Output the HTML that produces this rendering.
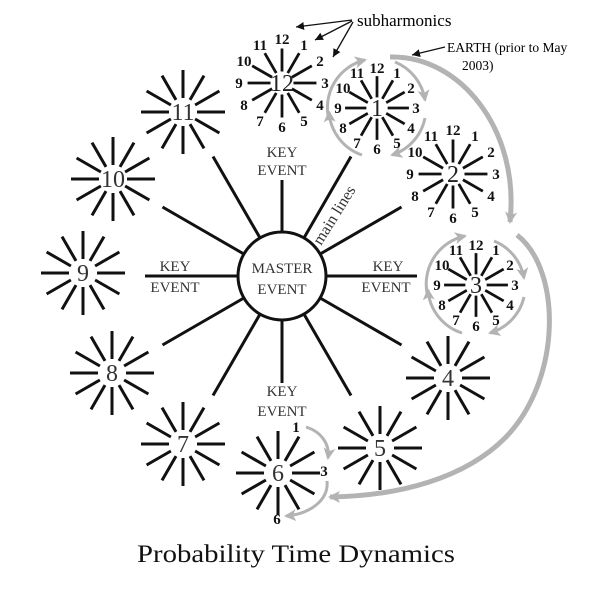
<!DOCTYPE html>
<html><head><meta charset="utf-8"><style>
html,body{margin:0;padding:0;background:#fff;}
svg{display:block;}
text{font-family:"Liberation Serif",serif;}
.n{font-weight:bold;font-size:15px;text-anchor:middle;fill:#111;}
.c{font-size:24px;text-anchor:middle;fill:#222;}
.b{font-size:24px;text-anchor:middle;fill:#333;}
.k{font-size:15px;text-anchor:middle;fill:#333;}
</style></head><body>
<svg width="600" height="600" viewBox="0 0 600 600" xmlns="http://www.w3.org/2000/svg">
<defs>
<path id="rays" d="M14,0L42,0M12.1,7L36.4,21M7,12.1L21,36.4M0,14L0,42M-7,12.1L-21,36.4M-12.1,7L-36.4,21M-14,0L-42,0M-12.1,-7L-36.4,-21M-7,-12.1L-21,-36.4M0,-14L0,-42M7,-12.1L21,-36.4M12.1,-7L36.4,-21" stroke="#111" fill="none"/>
<marker id="ga" markerUnits="userSpaceOnUse" markerWidth="14" markerHeight="14" refX="10" refY="6" orient="auto"><path d="M0,0L12,6L0,12L3,6Z" fill="#b3b3b3"/></marker>
<marker id="ka" markerUnits="userSpaceOnUse" markerWidth="10" markerHeight="10" refX="8" refY="4" orient="auto"><path d="M0,0L8,4L0,8Z" fill="#111"/></marker>
<g id="nums">
<text class="n" x="0" y="-39">12</text><text class="n" x="22" y="-33">1</text><text class="n" x="38" y="-17">2</text><text class="n" x="43" y="5">3</text><text class="n" x="38" y="27">4</text><text class="n" x="22" y="43">5</text><text class="n" x="0" y="49">6</text><text class="n" x="-22" y="43">7</text><text class="n" x="-38" y="27">8</text><text class="n" x="-43" y="5">9</text><text class="n" x="-38" y="-17">10</text><text class="n" x="-22" y="-33">11</text>
</g>
<g id="nums2">
<text class="n" x="0" y="-35">12</text><text class="n" x="20" y="-30">1</text><text class="n" x="34" y="-15">2</text><text class="n" x="39" y="5">3</text><text class="n" x="34" y="25">4</text><text class="n" x="20" y="40">5</text><text class="n" x="0" y="46">6</text><text class="n" x="-20" y="40">7</text><text class="n" x="-34" y="25">8</text><text class="n" x="-39" y="5">9</text><text class="n" x="-34" y="-15">10</text><text class="n" x="-20" y="-30">11</text>
</g>
</defs>

<g stroke="#111" stroke-width="3" fill="none">
<path d="M304,237.9L351,156.5M320.1,254L401.5,207M326,276L417,276M320.1,298L401.5,345M304,314.1L351,395.5M282,320L282,383M260,314.1L213,395.5M243.9,298L162.5,345M238,276L145,276M243.9,254L162.5,207M260,237.9L213,156.5M282,232L282,180"/>
<circle cx="282" cy="276" r="44"/>
</g>
<text class="k" x="282" y="273">MASTER</text>
<text class="k" x="282" y="294">EVENT</text>
<text class="k" x="282" y="157">KEY</text>
<text class="k" x="282" y="175">EVENT</text>
<text class="k" x="175" y="271">KEY</text>
<text class="k" x="175" y="292">EVENT</text>
<text class="k" x="388" y="271">KEY</text>
<text class="k" x="386" y="292">EVENT</text>
<text class="k" x="282" y="396">KEY</text>
<text class="k" x="282" y="416">EVENT</text>
<text transform="translate(321,246) rotate(-58)" style="font-size:16px;fill:#333">main lines</text>

<g stroke-width="3">
<use href="#rays" x="183" y="112"/><use href="#rays" x="113" y="179"/><use href="#rays" x="83" y="273"/><use href="#rays" x="112" y="373"/><use href="#rays" x="183" y="444"/><use href="#rays" x="448" y="378"/><use href="#rays" x="380" y="448"/><use href="#rays" x="278" y="473"/>
</g>
<text class="b" x="183" y="120">11</text><text class="b" x="113" y="187">10</text><text class="b" x="83" y="281">9</text><text class="b" x="112" y="381">8</text><text class="b" x="183" y="452">7</text><text class="b" x="448" y="386">4</text><text class="b" x="380" y="456">5</text><text class="b" x="278" y="481">6</text>
<text class="n" x="296" y="432">1</text><text class="n" x="324" y="476">3</text><text class="n" x="277" y="524">6</text>

<g transform="translate(282,83)"><use href="#rays" transform="scale(0.82)" stroke-width="3.4"/><use href="#nums"/><text class="c" x="0" y="8">12</text></g>
<g transform="translate(377,108)"><use href="#rays" transform="scale(0.76)" stroke-width="3.6"/><use href="#nums2"/><text class="c" x="0" y="8">1</text></g>
<g transform="translate(453,174)"><use href="#rays" transform="scale(0.82)" stroke-width="3.4"/><use href="#nums"/><text class="c" x="0" y="8">2</text></g>
<g transform="translate(476,285)"><use href="#rays" transform="scale(0.76)" stroke-width="3.6"/><use href="#nums2"/><text class="c" x="0" y="8">3</text></g>

<g stroke="#b3b3b3" fill="none" stroke-width="3" marker-end="url(#ga)">
<path d="M329,120A49,49 0 0 1 365,60"/>
<path d="M395,62A49,49 0 0 1 425,100"/>
<path d="M425,118A49,49 0 0 1 392,155"/>
<path d="M362,155A49,49 0 0 1 329,112"/>
<path d="M428,297A49,49 0 0 1 465,236"/>
<path d="M494,241A49,49 0 0 1 524,278"/>
<path d="M524,297A49,49 0 0 1 490,333"/>
<path d="M462,333A49,49 0 0 1 428,290"/>
<path d="M306,427C322,432 330,445 328,458"/>
<path d="M327,481C329,500 310,514 286,516"/>
</g>
<g stroke="#b3b3b3" fill="none" stroke-width="5" marker-end="url(#ga)">
<path d="M390,57C460,55 520,130 510,222"/>
<path d="M517,235C562,270 562,380 505,438C465,478 400,496 330,497"/>
</g>

<text x="357" y="26" style="font-size:17px">subharmonics</text>
<g stroke="#111" stroke-width="1.3" marker-end="url(#ka)">
<line x1="352" y1="20" x2="296" y2="27"/>
<line x1="352" y1="21" x2="315" y2="40"/>
<line x1="353" y1="22" x2="333" y2="57"/>
<line x1="445" y1="47" x2="412" y2="55"/>
</g>
<text x="447" y="52" style="font-size:13.5px">EARTH (prior to May</text>
<text x="462" y="70" style="font-size:13.5px">2003)</text>

<text x="137" y="562" textLength="318" lengthAdjust="spacingAndGlyphs" style="font-size:25px;fill:#111">Probability Time Dynamics</text>
</svg>
</body></html>
